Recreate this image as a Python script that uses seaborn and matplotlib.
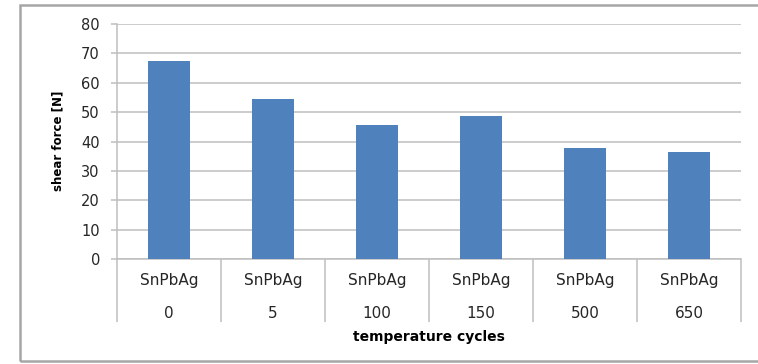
import numpy as np
import pandas as pd
import matplotlib
matplotlib.use("Agg")
import matplotlib.pyplot as plt
import matplotlib.transforms as mtransforms
from matplotlib.patches import Rectangle
import seaborn as sns

# Shear force of SnPbAg joints after thermal cycling
alloys = ["SnPbAg", "SnPbAg", "SnPbAg", "SnPbAg", "SnPbAg", "SnPbAg"]
cycles = ["0", "5", "100", "150", "500", "650"]
shear_force = [67.5, 54.5, 45.5, 48.6, 37.8, 36.3]
y_ticks = [0, 10, 20, 30, 40, 50, 60, 70, 80]

sns.set_theme(style="white")
plt.rcParams["font.family"] = ["DejaVu Sans"]

grid_grey = "#BEBEBE"
bar_blue = "#4F81BD"
text_col = "#262626"

df = pd.DataFrame({"pos": [str(i) for i in range(len(cycles))],
                   "force": shear_force})

W, H = 758, 364
fig = plt.figure(figsize=(W / 100, H / 100), dpi=100)
fig.patch.set_facecolor("white")

# outer chart frame
fig.patches.append(Rectangle((20 / W, 3 / H), (W + 10 - 20) / W, (359 - 3) / H,
                             transform=fig.transFigure, fill=False,
                             edgecolor="#A6A6A6", linewidth=1.8))

x0, x1, y0, y1 = 117, 741, 259, 24
ax = fig.add_axes([x0 / W, 1 - y0 / H, (x1 - x0) / W, (y0 - y1) / H])

sns.barplot(data=df, x="pos", y="force", color=bar_blue, width=0.41,
            saturation=1, linewidth=0, ax=ax, zorder=3)

ax.set_xlim(-0.5, len(cycles) - 0.5)
ax.set_ylim(0, 80)
ax.set_yticks(y_ticks)
ax.yaxis.grid(True, color=grid_grey, linewidth=1.1)
ax.set_axisbelow(True)

for side in ("top", "right"):
    ax.spines[side].set_visible(False)
for side in ("left", "bottom"):
    ax.spines[side].set_color(grid_grey)
    ax.spines[side].set_linewidth(1.1)

ax.tick_params(axis="y", which="major", left=True, length=4.3, width=1.1,
               color=grid_grey, pad=8, labelsize=10.5, labelcolor=text_col)
ax.set_xticks(range(len(cycles)))
ax.set_xticklabels([])
ax.tick_params(axis="x", which="major", length=0)
# category separators spanning both label rows
ax.set_xticks(np.arange(-0.5, len(cycles)), minor=True)
ax.tick_params(axis="x", which="minor", bottom=True, length=45, width=1.1,
               color=grid_grey)

trans = mtransforms.blended_transform_factory(ax.transData, ax.transAxes)
h_px = y0 - y1
for i, (a, c) in enumerate(zip(alloys, cycles)):
    ax.text(i, -21 / h_px, a, transform=trans, ha="center", va="center",
            fontsize=11, color=text_col)
    ax.text(i, -54 / h_px, c, transform=trans, ha="center", va="center",
            fontsize=11, color=text_col)

ax.set_xlabel("")
ax.set_ylabel("")
fig.text(429 / W, 1 - 337 / H, "temperature cycles", ha="center", va="center",
         fontsize=10, fontweight="bold", color="black")
fig.text(58 / W, 1 - 141 / H, "shear force [N]", ha="center", va="center",
         rotation=90, fontsize=8.5, fontweight="bold", color="black")

fig.savefig("out.png", dpi=100, facecolor="white")
